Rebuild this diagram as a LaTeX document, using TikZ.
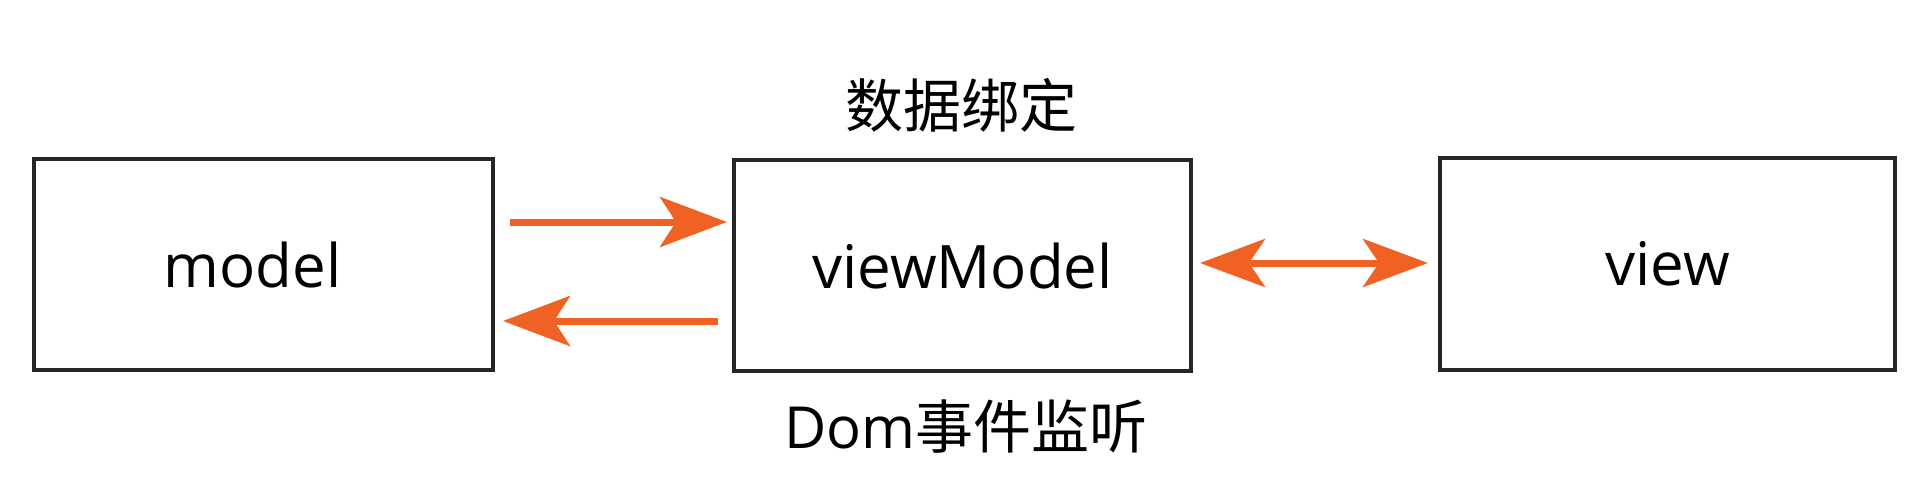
\documentclass[tikz,border=0pt]{standalone}
\usepackage{fontspec}
\setmainfont{Open Sans}
\newfontfamily\cjk{Noto Sans CJK SC}
\usetikzlibrary{arrows.meta}
\definecolor{arrorange}{RGB}{240,98,36}
\definecolor{boxgray}{RGB}{38,38,38}
\tikzset{
  box/.style={draw=boxgray, line width=4pt, minimum height=211pt, inner sep=0pt, font=\fontsize{60}{72}\selectfont},
  lbl/.style={inner sep=0pt, font=\fontsize{58}{70}\selectfont},
  arr/.style={draw=arrorange, line width=7pt, -{Stealth[length=67pt, width=50pt, inset=16pt]}},
  darr/.style={draw=arrorange, line width=7pt, {Stealth[length=65pt, width=48pt, inset=16pt]}-{Stealth[length=65pt, width=48pt, inset=16pt]}}
}
\begin{document}
\begin{tikzpicture}[x=1pt, y=-1pt]
\useasboundingbox (0,0) rectangle (1924,489);
\node[box, minimum width=459pt] (model) at (263.5,264.5) {\hspace*{-22pt}model};
\node[box, minimum width=457pt] (vm) at (962.5,265.5) {viewModel};
\node[box, minimum width=455pt] (view) at (1667.5,264) {view};
\node[lbl] (bind) at (961,105) {\cjk 数据绑定};
\node[lbl] (dom) at (966,427) {Dom{\cjk 事件监听}};
\draw[arr, shorten <=15pt, shorten >=5pt] ([yshift=42.5pt]model.east) -- ([yshift=42.5pt]model.east -| vm.west);
\draw[arr, shorten <=14pt, shorten >=8pt] ([yshift=-55.5pt]vm.west) -- ([yshift=-55.5pt]vm.west -| model.east);
\draw[darr, shorten <=7pt, shorten >=10pt] ([yshift=2.5pt]vm.east) -- ([yshift=2.5pt]vm.east -| view.west);
\end{tikzpicture}
\end{document}
